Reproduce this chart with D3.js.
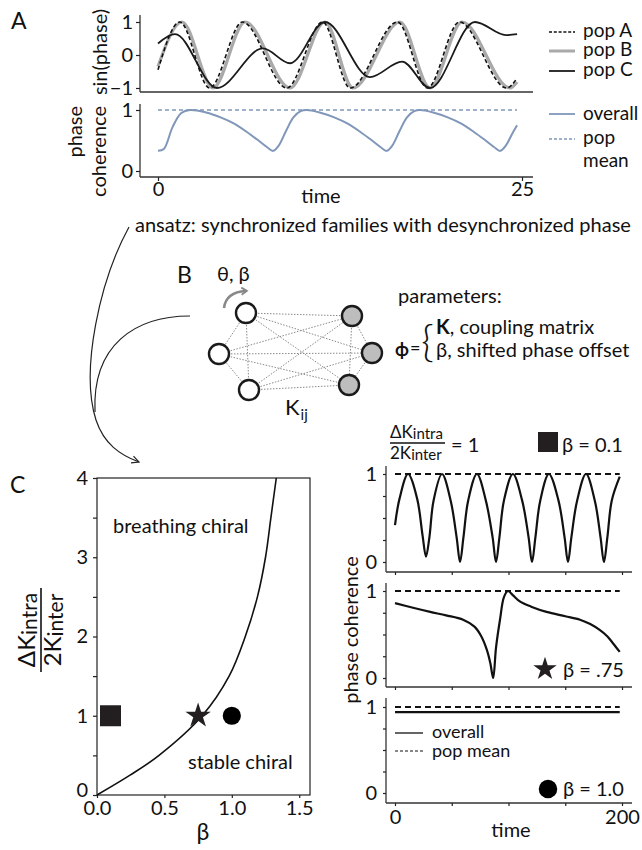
<!DOCTYPE html>
<html><head><meta charset="utf-8">
<script src="https://cdn.jsdelivr.net/npm/d3@7"></script>
<style>body{margin:0;background:#fff}svg{display:block}</style>
</head><body><svg id="c" width="642" height="850"></svg>
<script>
// ---------- DATA ----------
// Panel A: sin(phase) of three populations (time, value at extrema)
const popA_t = [0, 1.5, 3.55, 5.8, 8.85, 11.3, 13.2, 16.45, 18.5, 20.7, 23.95, 24.66];
const popA_v = [-0.45, 1, -1, 1, -1, 1, -1, 1, -1, 1, -1, -0.7];
const popB_t = [0, 1.65, 3.78, 5.98, 9.07, 11.47, 13.39, 16.62, 18.68, 20.88, 24.18, 24.66];
const popB_v = [-0.35, 1, -1, 1, -1, 1, -1, 1, -1, 1, -1, -0.82];
const popC_t = [0, 1.17, 4.05, 7.21, 9.07, 11.47, 14.56, 16.76, 18.68, 21.77, 23.9, 24.66];
const popC_v = [0.35, 0.63, -1, 0.2, -0.25, 1, -0.67, -0.2, -1, 1, 0.6, 0.63];
// Panel A: phase coherence
const coh_t = [0, 0.4, 1.0, 1.6, 2.2, 3.3, 4.3, 5.2, 6.1, 6.9, 7.5, 7.9, 8.3, 8.8, 9.3, 9.8, 10.2,
  11.1, 12.1, 13.0, 13.9, 14.7, 15.3, 15.7, 16.1, 16.6, 17.1, 17.6, 18.0,
  18.9, 19.9, 20.8, 21.7, 22.5, 23.1, 23.5, 23.9, 24.3, 24.66];
const coh_v = [0.33, 0.36, 0.72, 0.95, 1.0, 0.96, 0.88, 0.78, 0.64, 0.5, 0.39, 0.33, 0.42, 0.66, 0.88, 0.98, 1.0,
  0.96, 0.88, 0.78, 0.64, 0.5, 0.39, 0.33, 0.42, 0.66, 0.88, 0.98, 1.0,
  0.96, 0.88, 0.78, 0.64, 0.5, 0.39, 0.33, 0.42, 0.6, 0.75];
const popMean_t = [0, 24.66];
const popMean_v = [1, 1];
const aTimeTicks = [0, 25];
const aSinTicks = [-1, 0, 1];
const aCohTicks = [0, 1];

// Panel C left: boundary between breathing and stable chiral
const bnd_beta = [0, 0.245, 0.46, 0.78, 0.98, 1.1, 1.19, 1.25, 1.29, 1.33];
const bnd_k    = [0, 0.25, 0.5, 1, 1.5, 2, 2.5, 3, 3.5, 4];
const markBeta = [0.1, 0.75, 1.0];
const markK    = [1, 1, 1];
const markShape = ["square", "star", "circle"];
const cBetaTicks = [0, 0.5, 1.0, 1.5];
const cKTicks = [0, 0.5, 1, 1.5, 2, 2.5, 3, 3.5, 4];

// Panel C right: phase coherence over time for three beta values
const r1_t = [0, 4, 11.5, 19.5, 24.3, 27.3, 30.3, 34, 41.4, 49, 54.3, 57.3, 60.3, 64.5, 72.2, 80, 86, 89,
  92, 96, 103.9, 112, 117.7, 120.7, 123.7, 128, 135.6, 144, 149.4, 152.4, 155.4, 160.5, 168.3, 176, 181.1, 184.1,
  187.1, 191, 198];
const r1_v = [0.42, 0.72, 1, 0.72, 0.3, 0.06, 0.28, 0.7, 1, 0.7, 0.28, 0, 0.28, 0.7, 1, 0.7, 0.28, 0,
  0.28, 0.7, 1, 0.7, 0.28, 0, 0.28, 0.7, 1, 0.7, 0.28, 0, 0.28, 0.7, 1, 0.7, 0.28, 0,
  0.28, 0.7, 0.97];
const r2_t = [0, 15, 31, 45, 60, 70, 76, 81, 84, 86.5, 89, 92.5, 96, 99.5, 104, 110, 120, 133.5, 150, 163, 172, 180.6, 187, 192, 198];
const r2_v = [0.86, 0.81, 0.76, 0.72, 0.67, 0.59, 0.48, 0.32, 0.17, 0.0, 0.35, 0.67, 0.93, 1.0, 0.95, 0.88, 0.82, 0.76, 0.71, 0.67, 0.62, 0.55, 0.48, 0.4, 0.3];
const r3_t = [0, 198];
const r3_v = [0.94, 0.94];
const rMean_t = [0, 198];
const rMean_v = [1, 1];
const rTimeTicks = [0, 50, 100, 150, 200];
const rCohTicks = [0, 0.25, 0.5, 0.75, 1];

// ---------- DRAW ----------
const FONT = "Lato, 'Open Sans', sans-serif";
const FS = 20;
const svg = d3.select("#c");
svg.append("rect").attr("width", 642).attr("height", 850).attr("fill", "#fff");
const pts = (t, v) => t.map((d, i) => [d, v[i]]);
function txt(g, x, y, s, size, opts = {}) {
  const t = g.append("text").attr("x", x).attr("y", y).attr("font-family", FONT)
    .attr("font-size", size).attr("fill", opts.fill || "#111").text(s);
  if (opts.anchor) t.attr("text-anchor", opts.anchor);
  if (opts.weight) t.attr("font-weight", opts.weight);
  return t;
}
function styleAxis(g, size) {
  g.attr("font-size", size).attr("font-family", FONT).attr("color", "#222");
  g.select(".domain").remove();
  g.selectAll(".tick line").attr("stroke-width", 1.2);
  g.selectAll(".tick text").attr("fill", "#111");
}
const axisCol = "#333";

// ===== Panel A =====
const xA = d3.scaleLinear().domain([0, 25]).range([158, 522]);
const yA1 = d3.scaleLinear().domain([-1, 1]).range([88, 22]);
const yA2 = d3.scaleLinear().domain([0, 1]).range([171, 110]);
const gA = svg.append("g");
txt(gA, 11, 29, "A", 23);

gA.append("line").attr("x1", 140).attr("x2", 140).attr("y1", 15).attr("y2", 92).attr("stroke", axisCol).attr("stroke-width", 1.3);
gA.append("line").attr("x1", 140).attr("x2", 533).attr("y1", 92).attr("y2", 92).attr("stroke", axisCol).attr("stroke-width", 1.3);
gA.append("line").attr("x1", 140).attr("x2", 140).attr("y1", 104).attr("y2", 177).attr("stroke", axisCol).attr("stroke-width", 1.3);
gA.append("line").attr("x1", 140).attr("x2", 533).attr("y1", 177).attr("y2", 177).attr("stroke", axisCol).attr("stroke-width", 1.3);

gA.append("g").attr("transform", "translate(140,0)")
  .call(d3.axisLeft(yA1).tickValues(aSinTicks).tickSize(4).tickPadding(3).tickFormat(d => d < 0 ? "\u22121" : String(d)))
  .call(g => styleAxis(g, FS));
gA.append("g").attr("transform", "translate(140,0)")
  .call(d3.axisLeft(yA2).tickValues(aCohTicks).tickSize(4).tickPadding(3).tickFormat(d3.format("d")))
  .call(g => styleAxis(g, FS));
gA.append("g").attr("transform", "translate(0,177)")
  .call(d3.axisBottom(xA).tickValues(aTimeTicks).tickSize(4).tickPadding(1).tickFormat(d3.format("d")))
  .call(g => styleAxis(g, FS));

const lineA1 = d3.line().x(d => xA(d[0])).y(d => yA1(d[1])).curve(d3.curveMonotoneX);
gA.append("path").attr("d", lineA1(pts(popB_t, popB_v))).attr("fill", "none").attr("stroke", "#a9a9a9").attr("stroke-width", 3.2);
gA.append("path").attr("d", lineA1(pts(popA_t, popA_v))).attr("fill", "none").attr("stroke", "#111").attr("stroke-width", 1.6).attr("stroke-dasharray", "4,2.5");
gA.append("path").attr("d", lineA1(pts(popC_t, popC_v))).attr("fill", "none").attr("stroke", "#1a1a1a").attr("stroke-width", 1.8);

const lineA2 = d3.line().x(d => xA(d[0])).y(d => yA2(d[1])).curve(d3.curveCatmullRom.alpha(0.5));
const cohCol = "#8097b9";
gA.append("path").attr("d", lineA2(pts(popMean_t, popMean_v))).attr("fill", "none").attr("stroke", cohCol).attr("stroke-width", 1.6).attr("stroke-dasharray", "4,3");
gA.append("path").attr("d", lineA2(pts(coh_t, coh_v))).attr("fill", "none").attr("stroke", cohCol).attr("stroke-width", 2);

txt(gA, 0, 0, "sin(phase)", FS, { anchor: "middle" }).attr("transform", "translate(107,52) rotate(-90)");
txt(gA, 0, 0, "phase", FS, { anchor: "end" }).attr("transform", "translate(82,106) rotate(-90)");
txt(gA, 0, 0, "coherence", FS, { anchor: "end" }).attr("transform", "translate(106,106) rotate(-90)");
txt(gA, 321, 203, "time", FS, { anchor: "middle" });

const legA = [["pop A", "#111", 1.6, "3,1.8", 32, 37], ["pop B", "#a9a9a9", 3, null, 51, 56], ["pop C", "#1a1a1a", 1.8, null, 71, 76]];
legA.forEach(l => {
  const ln = gA.append("line").attr("x1", 549).attr("x2", 575).attr("y1", l[4]).attr("y2", l[4]).attr("stroke", l[1]).attr("stroke-width", l[2]);
  if (l[3]) ln.attr("stroke-dasharray", l[3]);
  txt(gA, 583, l[5], l[0], 19);
});
gA.append("line").attr("x1", 549).attr("x2", 575).attr("y1", 114).attr("y2", 114).attr("stroke", cohCol).attr("stroke-width", 1.8);
txt(gA, 583, 120, "overall", 19);
gA.append("line").attr("x1", 549).attr("x2", 575).attr("y1", 139).attr("y2", 139).attr("stroke", cohCol).attr("stroke-width", 1.3).attr("stroke-dasharray", "3,2");
txt(gA, 583, 144, "pop", 19);
txt(gA, 583, 167, "mean", 19);

// ===== ansatz + arrows =====
txt(svg, 135, 232, "ansatz: synchronized families with desynchronized phase", FS);
const defs = svg.append("defs");
defs.append("marker").attr("id", "ah").attr("viewBox", "0 0 10 10").attr("refX", 9).attr("refY", 5)
  .attr("markerWidth", 9).attr("markerHeight", 9).attr("markerUnits", "userSpaceOnUse").attr("orient", "auto")
  .append("path").attr("d", "M1,1 L9,5 L1,9").attr("fill", "none").attr("stroke", "#222").attr("stroke-width", 1.3);
defs.append("marker").attr("id", "ahg").attr("viewBox", "0 0 10 10").attr("refX", 6).attr("refY", 5)
  .attr("markerWidth", 9).attr("markerHeight", 9).attr("markerUnits", "userSpaceOnUse").attr("orient", "auto")
  .append("path").attr("d", "M1,1 L7,5 L1,9").attr("fill", "none").attr("stroke", "#888").attr("stroke-width", 2);
svg.append("path").attr("d", "M129,227 C100,280 80,370 96,420 C104,444 120,455 139,462")
  .attr("fill", "none").attr("stroke", "#222").attr("stroke-width", 1.2).attr("marker-end", "url(#ah)");
svg.append("path").attr("d", "M190,316 C135,316 92,345 95,412")
  .attr("fill", "none").attr("stroke", "#222").attr("stroke-width", 1.2);

// ===== Panel B =====
const gB = svg.append("g");
txt(gB, 177, 283, "B", 23);
txt(gB, 217, 281, "\u03b8, \u03b2", FS);
const nodeX = [246, 219, 249, 352, 372, 349];
const nodeY = [313, 354, 390, 316, 353, 385];
const nodeFill = ["#fff", "#fff", "#fff", "#bdbdbd", "#bdbdbd", "#bdbdbd"];
const edges = [];
for (let i = 0; i < nodeX.length; i++) for (let j = i + 1; j < nodeX.length; j++) edges.push([i, j]);
gB.selectAll("line.e").data(edges).enter().append("line")
  .attr("x1", d => nodeX[d[0]]).attr("y1", d => nodeY[d[0]]).attr("x2", d => nodeX[d[1]]).attr("y2", d => nodeY[d[1]])
  .attr("stroke", "#8a8a8a").attr("stroke-width", 1).attr("stroke-dasharray", "1.5,1.5");
gB.selectAll("circle").data(nodeX).enter().append("circle")
  .attr("cx", d => d).attr("cy", (d, i) => nodeY[i]).attr("r", 10)
  .attr("fill", (d, i) => nodeFill[i]).attr("stroke", "#1a1a1a").attr("stroke-width", 2.4);
gB.append("path").attr("d", "M224,308 Q226,292 246,291").attr("fill", "none").attr("stroke", "#888").attr("stroke-width", 2.6).attr("marker-end", "url(#ahg)");
const kt = txt(gB, 285, 415, "K", 22);
kt.append("tspan").attr("font-size", 15).attr("dy", 5).attr("dx", 1).text("ij");
txt(gB, 398, 303, "parameters:", FS);
txt(gB, 395, 356, "\u03d5", 18, { weight: "bold" });
txt(gB, 410, 354, "=", 18);
txt(gB, 421, 357, "{", 44).attr("font-weight", 300);
const kr = txt(gB, 436, 334, "", FS);
kr.append("tspan").attr("font-weight", "bold").text("K");
kr.append("tspan").text(", coupling matrix");
txt(gB, 436, 357, "\u03b2, shifted phase offset", FS);

// ===== Panel C left =====
const gC = svg.append("g");
txt(gC, 10, 493, "C", 23);
const xC = d3.scaleLinear().domain([0, 1.58]).range([97, 310]);
const yC = d3.scaleLinear().domain([0, 4]).range([795, 478]);
gC.append("rect").attr("x", 97).attr("y", 478).attr("width", 213).attr("height", 317).attr("fill", "none").attr("stroke", "#222").attr("stroke-width", 1.2);
gC.append("g").attr("transform", "translate(97,0)")
  .call(d3.axisLeft(yC).tickValues(cKTicks).tickSize(4).tickPadding(5).tickFormat(d => Number.isInteger(d) ? d : ""))
  .call(g => styleAxis(g, FS));
gC.append("g").attr("transform", "translate(0,795)")
  .call(d3.axisBottom(xC).tickValues(cBetaTicks).tickSize(3).tickPadding(3).tickFormat(d3.format(".1f")))
  .call(g => styleAxis(g, FS));
gC.selectAll(".tick text").filter(function () { return this.textContent === "0"; }).attr("dy", "0.05em");
const lineC = d3.line().x(d => xC(d[0])).y(d => yC(d[1])).curve(d3.curveCatmullRom.alpha(0.5));
gC.append("path").attr("d", lineC(pts(bnd_beta, bnd_k))).attr("fill", "none").attr("stroke", "#111").attr("stroke-width", 1.6);
const symType = { square: d3.symbolSquare, star: d3.symbolStar, circle: d3.symbolCircle };
const symSize = { square: 441, star: 200, circle: 260 };
gC.selectAll("path.m").data(markBeta).enter().append("path")
  .attr("transform", (d, i) => `translate(${xC(d)},${yC(markK[i])})`)
  .attr("d", (d, i) => d3.symbol(symType[markShape[i]], symSize[markShape[i]])())
  .attr("fill", (d, i) => markShape[i] === "circle" ? "#000" : "#231f20");
txt(gC, 113, 533, "breathing chiral", FS);
txt(gC, 188, 769, "stable chiral", FS);
txt(gC, 203, 840, "\u03b2", 23, { anchor: "middle" });
const fr = gC.append("g").attr("transform", "translate(41,630) rotate(-90)");
const fTop = txt(fr, 0, -6, "\u0394K", 24, { anchor: "middle" });
fTop.append("tspan").attr("font-size", 21).attr("dy", 2).text("intra");
const fBot = txt(fr, 0, 20, "2K", 24, { anchor: "middle" });
fBot.append("tspan").attr("font-size", 21).attr("dy", 2).text("inter");
fr.append("line").attr("x1", -42).attr("x2", 42).attr("y1", 0).attr("y2", 0).attr("stroke", "#111").attr("stroke-width", 1.6);

// ===== Panel C right =====
const gR = svg.append("g");
const xR = d3.scaleLinear().domain([0, 200]).range([395, 622]);
const rPlots = [
  { y0: 562, y1: 474, axisY: 572, top: 466, t: r1_t, v: r1_v },
  { y0: 678, y1: 591, axisY: 687, top: 583, t: r2_t, v: r2_v },
  { y0: 793, y1: 707, axisY: 803, top: 698, t: r3_t, v: r3_v }
];
rPlots.forEach((p, k) => {
  const yR = d3.scaleLinear().domain([0, 1]).range([p.y0, p.y1]);
  gR.append("line").attr("x1", 386).attr("x2", 386).attr("y1", p.top).attr("y2", p.axisY).attr("stroke", axisCol).attr("stroke-width", 1.3);
  gR.append("line").attr("x1", 386).attr("x2", 632).attr("y1", p.axisY).attr("y2", p.axisY).attr("stroke", axisCol).attr("stroke-width", 1.3);
  gR.append("g").attr("transform", "translate(386,0)")
    .call(d3.axisLeft(yR).tickValues(rCohTicks).tickSize(3).tickPadding(6).tickFormat(d => (d === 0 || d === 1) ? d : ""))
    .call(g => styleAxis(g, FS));
  gR.append("g").attr("transform", `translate(0,${p.axisY})`)
    .call(d3.axisBottom(xR).tickValues(rTimeTicks).tickSize(3).tickPadding(4).tickFormat(d => (k === 2 && (d === 0 || d === 200)) ? d : ""))
    .call(g => styleAxis(g, FS));
  const ln = d3.line().x(d => xR(d[0])).y(d => yR(d[1])).curve(d3.curveCatmullRom.alpha(0.5));
  gR.append("path").attr("d", ln(pts(rMean_t, rMean_v))).attr("fill", "none").attr("stroke", "#111").attr("stroke-width", 2).attr("stroke-dasharray", "6,4");
  gR.append("path").attr("d", ln(pts(p.t, p.v))).attr("fill", "none").attr("stroke", "#111").attr("stroke-width", 2.2);
});
txt(gR, 0, 0, "phase coherence", FS, { anchor: "middle" }).attr("transform", "translate(358,630) rotate(-90)");
txt(gR, 511, 837, "time", FS, { anchor: "middle" });
const hTop = txt(gR, 390, 438, "\u0394K", 17);
hTop.append("tspan").attr("font-size", 15).attr("dy", 1).text("intra");
const hBot = txt(gR, 390, 459, "2K", 17);
hBot.append("tspan").attr("font-size", 15).attr("dy", 1).text("inter");
gR.append("line").attr("x1", 390).attr("x2", 445).attr("y1", 443).attr("y2", 443).attr("stroke", "#111").attr("stroke-width", 1.3);
txt(gR, 451, 452, "= 1", FS);
gR.append("path").attr("transform", "translate(548,442)").attr("d", d3.symbol(d3.symbolSquare, 400)()).attr("fill", "#231f20");
txt(gR, 562, 452, "\u03b2 = 0.1", FS);
gR.append("path").attr("transform", "translate(545,669)").attr("d", d3.symbol(d3.symbolStar, 170)()).attr("fill", "#231f20");
txt(gR, 563, 677, "\u03b2 = .75", FS);
gR.append("path").attr("transform", "translate(548,789)").attr("d", d3.symbol(d3.symbolCircle, 270)()).attr("fill", "#000");
txt(gR, 563, 796, "\u03b2 = 1.0", FS);
gR.append("line").attr("x1", 395).attr("x2", 423).attr("y1", 733).attr("y2", 733).attr("stroke", "#111").attr("stroke-width", 1.3);
txt(gR, 432, 738, "overall", 18);
gR.append("line").attr("x1", 395).attr("x2", 423).attr("y1", 751).attr("y2", 751).attr("stroke", "#111").attr("stroke-width", 1).attr("stroke-dasharray", "3,2");
txt(gR, 432, 757, "pop mean", 18);
</script></body></html>
